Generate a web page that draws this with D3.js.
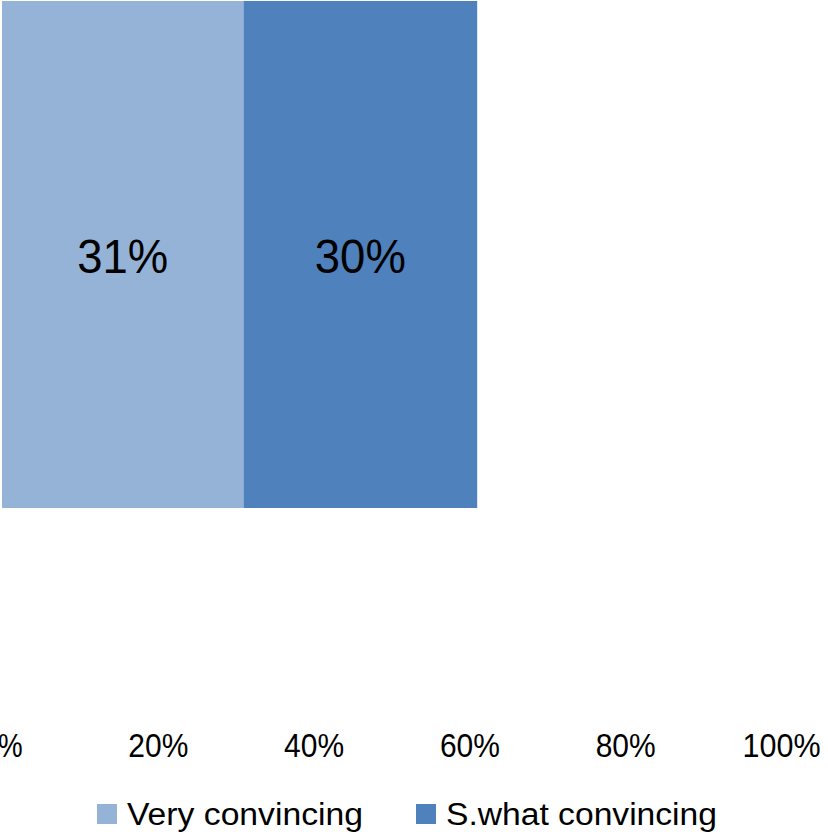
<!DOCTYPE html>
<html><head><meta charset="utf-8">
<script src="https://cdn.jsdelivr.net/npm/d3@7"></script>
<style>body{margin:0;background:#fff}svg{display:block}text{font-family:"Liberation Sans",Arial,sans-serif}</style>
</head><body><svg id="c" width="828" height="832"></svg>
<script>
const categories = ["Q"];
const seriesNames = ["Very convincing", "S.what convincing"];
const veryConvincing = [0.31];
const swhatConvincing = [0.30];
const tickValues = [0, 0.2, 0.4, 0.6, 0.8, 1.0];
const colors = ["#95B3D7", "#4F81BD"];

const svg = d3.select("#c");
const x = d3.scaleLinear().domain([0, 1]).range([2, 781]);
const y = d3.scaleBand().domain(categories).range([1, 508]).padding(0);

const rows = categories.map((c, i) => ({cat: c, "Very convincing": veryConvincing[i], "S.what convincing": swhatConvincing[i]}));
const stack = d3.stack().keys(seriesNames)(rows);

const g = svg.append("g");
stack.forEach((layer, li) => {
  layer.forEach(d => {
    g.append("rect")
      .attr("x", x(d[0])).attr("y", y(d.data.cat))
      .attr("width", x(d[1]) - x(d[0])).attr("height", y.bandwidth())
      .attr("fill", colors[li]);
    const v = d[1] - d[0];
    g.append("text")
      .attr("x", (x(d[0]) + x(d[1])) / 2)
      .attr("y", y(d.data.cat) + y.bandwidth() / 2 + 18)
      .attr("text-anchor", "middle")
      .attr("font-size", 49)
      .attr("fill", "#000")
      .attr("textLength", 91).attr("lengthAdjust", "spacingAndGlyphs")
      .text(Math.round(v * 100) + "%");
  });
});

// axis
const axis = d3.axisBottom(x).tickValues(tickValues).tickFormat(d3.format(".0%")).tickSize(0).tickPadding(0);
const ag = svg.append("g").attr("transform", "translate(0,733)").call(axis);
ag.select(".domain").remove();
ag.selectAll("text")
  .attr("font-size", 33.5).attr("fill", "#000")
  .attr("dy", null).attr("y", 24)
  .style("font-family", '"Liberation Sans",Arial,sans-serif')
  .each(function(d){ const t = d3.select(this); const n = t.text().length; t.attr("textLength", n === 4 ? 78 : (n === 3 ? 60 : 40)).attr("lengthAdjust", "spacingAndGlyphs"); });

// legend
const legendX = [97, 416];
const legendW = [236, 271];
seriesNames.forEach((s, i) => {
  const lg = svg.append("g").attr("transform", `translate(${legendX[i]},0)`);
  lg.append("rect").attr("x", 0).attr("y", 804).attr("width", 20).attr("height", 20).attr("fill", colors[i]);
  lg.append("text").attr("x", 30).attr("y", 824.5).attr("font-size", 31).attr("fill", "#000")
    .attr("textLength", legendW[i]).attr("lengthAdjust", "spacingAndGlyphs").text(s);
});
</script></body></html>
